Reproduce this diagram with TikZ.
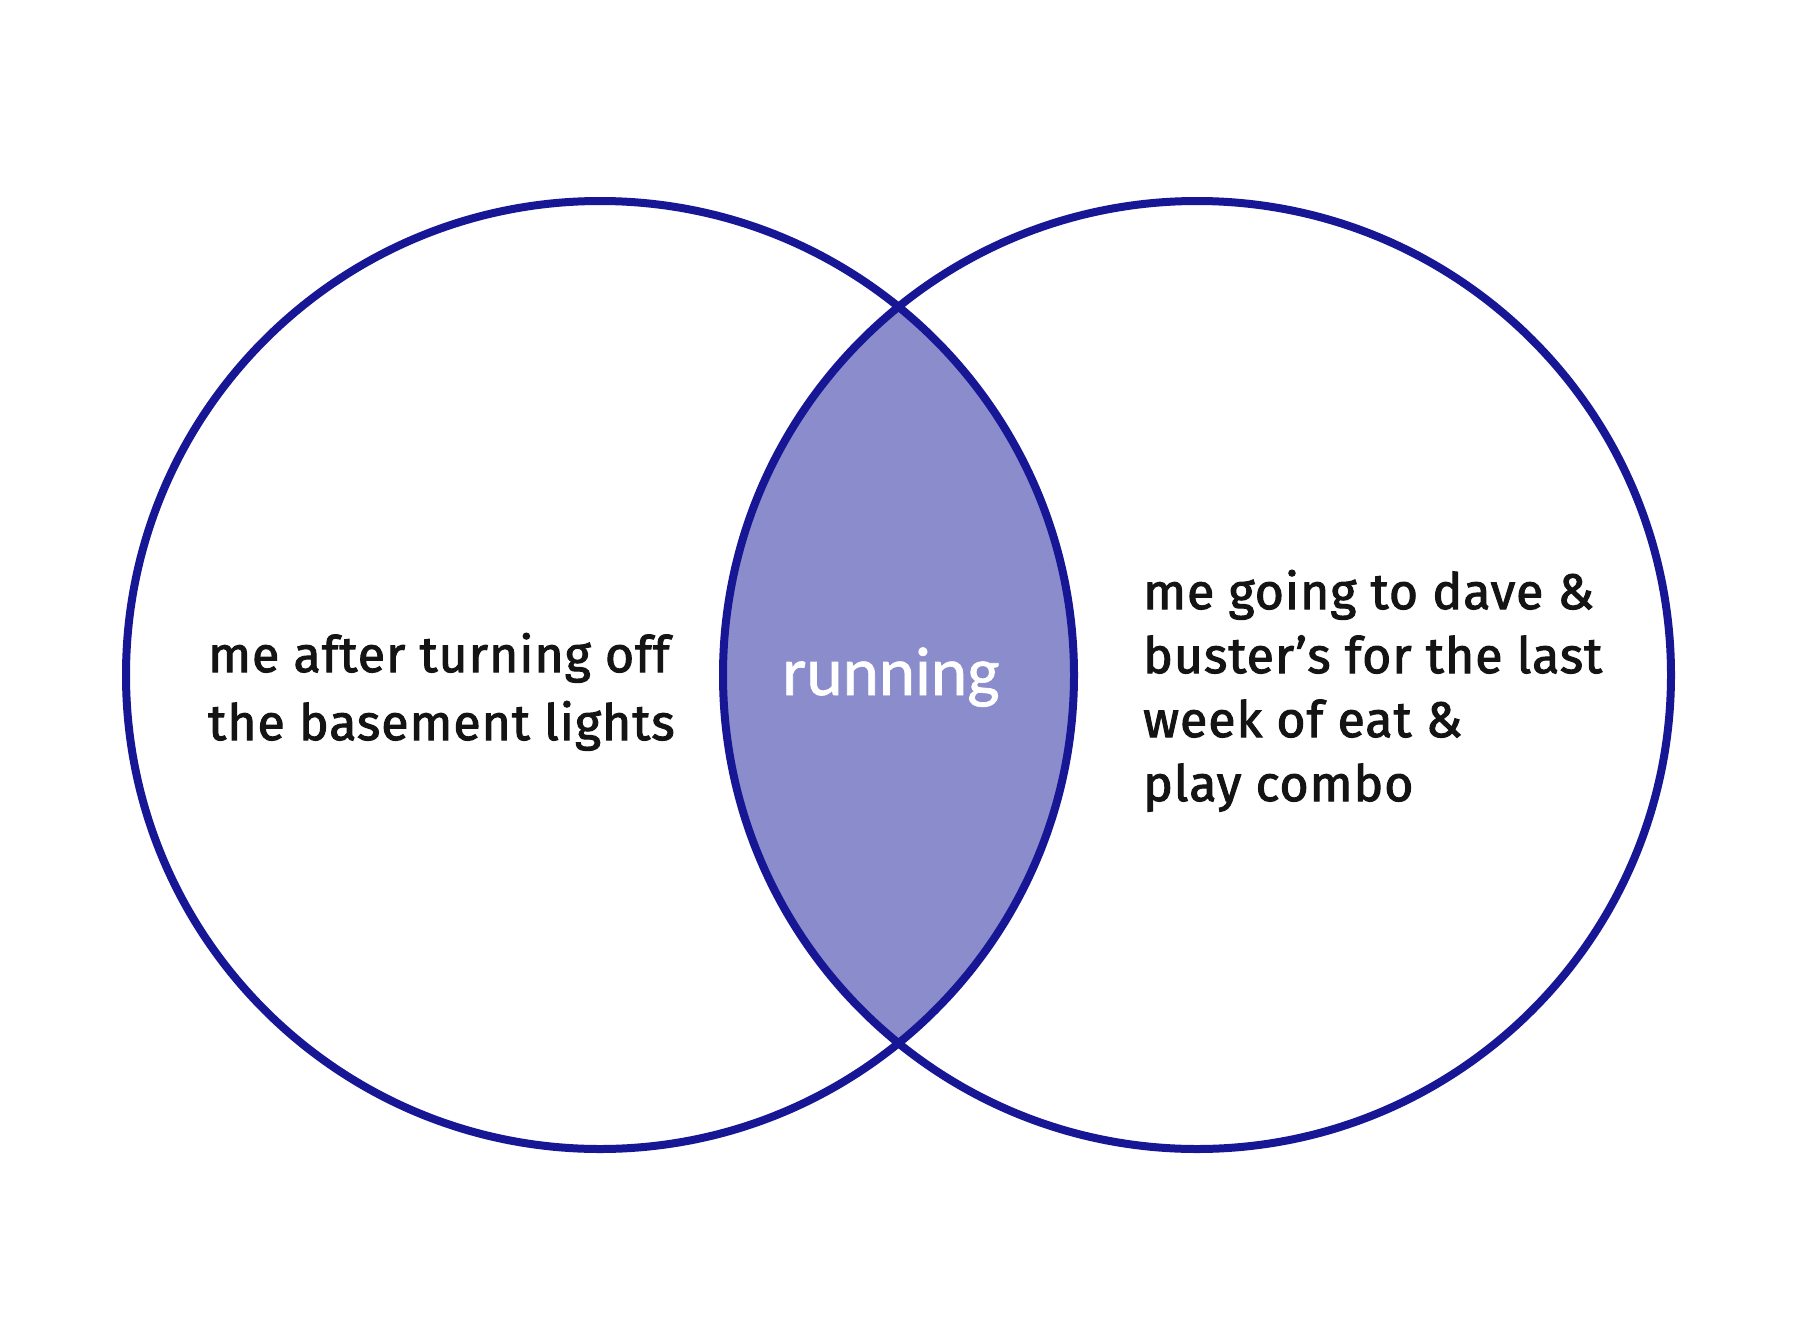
\documentclass[tikz,border=0pt]{standalone}
\usepackage{fontspec}
\setmainfont{Fira Sans}
\newfontfamily\sidefont{Fira Sans}[FakeBold=2,LetterSpace=2]
\newfontfamily\runfont{Carlito}[FakeBold=1]
\definecolor{ringblue}{RGB}{23,23,150}
\definecolor{lensfill}{RGB}{138,140,204}
\definecolor{inkdark}{RGB}{20,20,20}
\begin{document}
\begin{tikzpicture}[x=1pt,y=-1pt,
  ring/.style={draw=ringblue,line width=8pt},
  sidetext/.style={inner sep=0pt,anchor=base west,text=inkdark,font=\sidefont\fontsize{50}{60}\selectfont},
  midtext/.style={inner sep=0pt,anchor=base,text=white,font=\runfont\fontsize{69}{80}\selectfont}]
\useasboundingbox[fill=white] (0,0) rectangle (1800,1344);
\coordinate (cl) at (600,675);
\coordinate (cr) at (1197,675);
\begin{scope}
  \clip (cl) circle[radius=474];
  \fill[lensfill] (cr) circle[radius=474];
\end{scope}
\draw[ring] (cl) circle[radius=474];
\draw[ring] (cr) circle[radius=474];
\node[sidetext] (l1) at (208,672) {me after turning off};
\node[sidetext] (l2) at (208,740) {the basement lights};
\node[midtext] (mid) at (891,695) {running};
\node[sidetext] (r1) at (1143,609) {me going to dave \&};
\node[sidetext] (r2) at (1143,673) {buster’s for the last};
\node[sidetext] (r3) at (1143,737) {week of eat \&};
\node[sidetext] (r4) at (1143,801) {play combo};
\end{tikzpicture}
\end{document}
